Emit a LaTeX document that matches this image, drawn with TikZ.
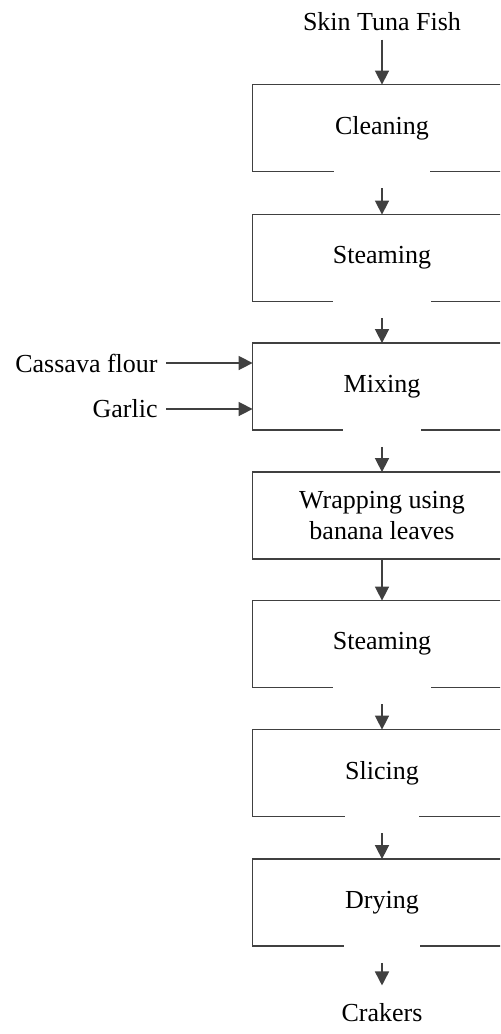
\documentclass[tikz,border=0pt]{standalone}
\usepackage{fontspec}
\setmainfont{Liberation Serif}
\usepackage{xcolor}
\usepackage{tikz}
\usetikzlibrary{arrows.meta,calc}
\definecolor{flowgray}{RGB}{64,64,64}
\tikzstyle{node:step}=[minimum width=129pt,minimum height=43pt,inner sep=0pt,align=center,font=\fontsize{13}{15.5}\selectfont]
\tikzstyle{node:label}=[inner sep=4pt,font=\fontsize{13}{15.5}\selectfont]
\tikzstyle{draw:box}=[line width=0.75pt,draw=flowgray]
\tikzstyle{draw:flow}=[-{Triangle[width=7pt,length=7pt]},line width=0.8pt,draw=flowgray]

\begin{document}
\begin{tikzpicture}[x=0.5pt,y=-0.5pt]
        \useasboundingbox (0,0) rectangle (500,1034);
        \clip (0,0) rectangle (500,1034);

        % Raw material and product
        \node[node:label] (IN-0) at (382,22) {Skin Tuna Fish};
        \node[node:label] (OUT) at (382,1013) {Crakers};

        % Process steps (7 boxes)
        \node[node:step] (N1) at (382,128) {Cleaning};
        \node[node:step] (N2) at (382,258) {Steaming};
        \node[node:step] (N3) at (382,386.5) {Mixing};
        \node[node:step] (N4) at (382,515.5) {Wrapping using\\banana leaves};
        \node[node:step] (N5) at (382,644) {Steaming};
        \node[node:step] (N6) at (382,773) {Slicing};
        \node[node:step] (N7) at (382,902.5) {Drying};

        % Added ingredients
        \node[node:label,anchor=east] (IN-1) at (166,363) {Cassava flour};
        \node[node:label,anchor=east] (IN-2) at (166,409) {Garlic};

        % box outlines, open at the bottom
        \foreach \n/\g in {N1/48,N2/49,N3/39,N5/49,N6/37,N7/38} {
                \draw[draw:box] (\n.north east) -- (\n.north west) -- (\n.south west) -- ($(\n.south)+(-\g,0)$);
                \draw[draw:box] ($(\n.south)+(\g,0)$) -- (\n.south east);
            }
        \draw[draw:box] (N4.north east) -- (N4.north west) -- (N4.south west) -- (N4.south east);

        % draw:flow between steps
        \draw[draw:flow] (IN-0) -- (N1.north);
        \foreach \i/\j in {1/2,2/3,3/4,5/6,6/7} {
                \draw[draw:flow] ($(N\i.south)+(0,17)$) -- (N\j.north);
            }
        \draw[draw:flow] (N4.south) -- (N5.north);
        \draw[draw:flow,shorten >=5pt] ($(N7.south)+(0,17)$) -- (OUT.north);

        % draw:flow from ingredients into mixing
        \draw[draw:flow] (IN-1.east) -- (N3.west |- IN-1.east);
        \draw[draw:flow] (IN-2.east) -- (N3.west |- IN-2.east);
    \end{tikzpicture}
\end{document}
